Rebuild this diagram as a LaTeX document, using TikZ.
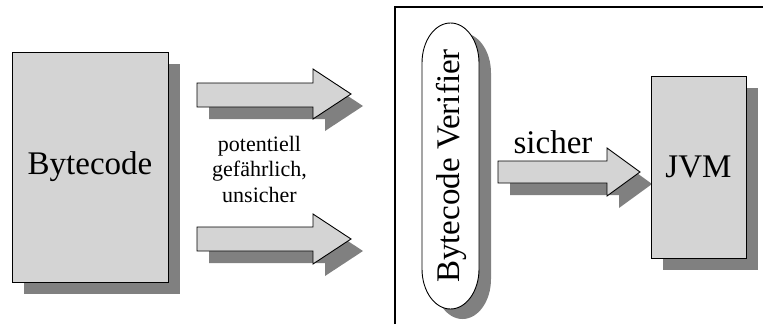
\documentclass[tikz,border=0pt]{standalone}
\usepackage{fontspec}
\setmainfont{Liberation Serif}
\definecolor{boxfill}{RGB}{212,212,212}
\definecolor{shadowgray}{RGB}{128,128,128}
\tikzset{
  mainshape/.style={draw=black, line width=0.9pt, fill=boxfill},
  capsuleshape/.style={draw=black, line width=0.9pt, fill=white},
  shadowshape/.style={fill=shadowgray, draw=none},
  bigtext/.style={font=\fontsize{33}{36}\selectfont, inner sep=0pt},
  smalltext/.style={font=\fontsize{22}{25}\selectfont, inner sep=0pt, anchor=base},
  frameline/.style={draw=black, line width=1.8pt}
}
\begin{document}
\begin{tikzpicture}[x=1pt, y=-1pt]
\useasboundingbox (0,0) rectangle (763,324);
% frame
\draw[frameline] (395,324) -- (395,7) -- (763,7);

% Bytecode box
\fill[shadowshape] (24,64) rectangle (180,294);
\draw[mainshape] (12,52) rectangle (168,282);
\node[bigtext] (bytecode) at (90,167) {Bytecode};

% top arrow
\fill[shadowshape] (209,95) -- (325,95) -- (325,81) -- (363,106) -- (325,131) -- (325,119) -- (209,119) -- cycle;
\draw[mainshape] (197,83) -- (313,83) -- (313,69) -- (351,94) -- (313,119) -- (313,107) -- (197,107) -- cycle;
% bottom arrow
\fill[shadowshape] (209,239) -- (325,239) -- (325,226) -- (363,251) -- (325,276) -- (325,263) -- (209,263) -- cycle;
\draw[mainshape] (197,227) -- (313,227) -- (313,214) -- (351,239) -- (313,264) -- (313,251) -- (197,251) -- cycle;

% label
\node[smalltext] (l1) at (259.5,151) {potentiell};
\node[smalltext] (l2) at (259.5,176.5) {gefährlich,};
\node[smalltext] (l3) at (259.5,202) {unsicher};

% Bytecode Verifier capsule
\fill[shadowshape] (434,73) arc[start angle=180, end angle=360, x radius=28.5, y radius=40]
  -- (491,279) arc[start angle=0, end angle=180, x radius=28.5, y radius=40] -- cycle;
\draw[capsuleshape] (422,63) arc[start angle=180, end angle=360, x radius=28.5, y radius=40]
  -- (479,269) arc[start angle=0, end angle=180, x radius=28.5, y radius=40] -- cycle;
\node[bigtext, rotate=90] (verifier) at (451,166) {Bytecode Verifier};

% sicher arrow
\fill[shadowshape] (510,173) -- (619,173) -- (619,160) -- (652,184) -- (619,208) -- (619,195) -- (510,195) -- cycle;
\draw[mainshape] (498,161) -- (607,161) -- (607,148) -- (640,172) -- (607,196) -- (607,183) -- (498,183) -- cycle;
\node[bigtext, anchor=base] (sicher) at (553,153) {sicher};

% JVM box
\fill[shadowshape] (663,88) rectangle (758,270);
\draw[mainshape] (651,76) rectangle (746,258);
\node[bigtext] (jvm) at (698.5,167) {JVM};
\end{tikzpicture}
\end{document}
